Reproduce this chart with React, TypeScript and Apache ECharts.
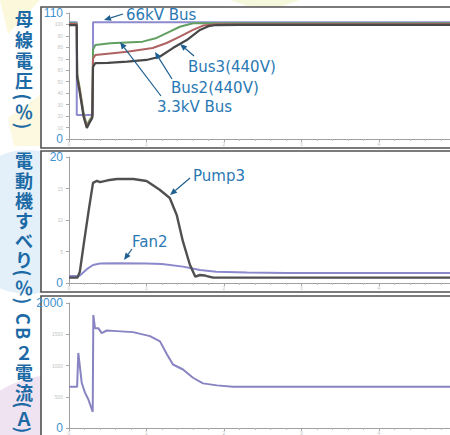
import React, { useEffect, useRef } from "react";
import * as echarts from "echarts";

// ---- Panel 1: bus voltage (%) vs time (s) ----
const bus66kV: [number, number][] = [
  [0, 102], [0.1, 102], [0.1, 21], [0.31, 21], [0.31, 102], [5, 102],
];
const bus33kV: [number, number][] = [
  [0, 101], [0.1, 101], [0.105, 57], [0.14, 44], [0.19, 22], [0.23, 12], [0.27, 17], [0.3, 20],
  [0.31, 78], [0.34, 82], [0.53, 83.5], [0.95, 85], [1.13, 88.2], [1.3, 93.7], [1.43, 98],
  [1.6, 101], [5, 101],
];
const bus2: [number, number][] = [
  [0, 100.5], [0.1, 100.5], [0.105, 55], [0.14, 42], [0.19, 20], [0.23, 11], [0.27, 15.5], [0.3, 19],
  [0.31, 70], [0.34, 73.3], [0.5, 74.5], [0.75, 76.2], [1.08, 79.4], [1.26, 83.8], [1.43, 89.3],
  [1.6, 95.2], [1.73, 99], [1.9, 100.2], [5, 100.4],
];
const bus3: [number, number][] = [
  [0, 99.5], [0.1, 99.5], [0.105, 54], [0.14, 40], [0.19, 19], [0.23, 9.6], [0.27, 14.8], [0.3, 18.3],
  [0.31, 62.9], [0.34, 66.3], [0.5, 66.5], [0.75, 67.5], [1.0, 69], [1.17, 71.8], [1.34, 79.4],
  [1.52, 86.4], [1.69, 95.2], [1.8, 98.5], [1.9, 99.5], [2.2, 99.7], [5, 99.7],
];

// ---- Panel 2: motor slip (%) ----
const pump3: [number, number][] = [
  [0, 0.85], [0.11, 0.85], [0.14, 1.8], [0.2, 7], [0.26, 12], [0.31, 15.9], [0.36, 16.2], [0.4, 16.0],
  [0.5, 16.3], [0.62, 16.5], [0.83, 16.5], [1.0, 16.2], [1.05, 15.8], [1.17, 14.8], [1.3, 13.5],
  [1.39, 10.8], [1.47, 6.6], [1.56, 2.9], [1.63, 1.0], [1.69, 1.27], [1.75, 1.2], [1.78, 1.1],
  [1.86, 0.85], [2.2, 0.85], [5, 0.85],
];
const fan2: [number, number][] = [
  [0, 1.1], [0.11, 1.1], [0.14, 1.2], [0.23, 2.2], [0.31, 2.86], [0.4, 3.1], [0.6, 3.15], [1.0, 3.1],
  [1.2, 3.0], [1.47, 2.6], [1.69, 2.06], [1.9, 1.8], [2.3, 1.65], [2.8, 1.6], [5, 1.6],
];

// ---- Panel 3: CB2 current (A) ----
const cb2: [number, number][] = [
  [0, 661], [0.105, 661], [0.12, 1201], [0.164, 725], [0.206, 566], [0.249, 460], [0.271, 381],
  [0.306, 259], [0.314, 1809], [0.335, 1598], [0.378, 1598], [0.422, 1519], [0.486, 1560],
  [0.615, 1550], [0.826, 1534], [1.045, 1470], [1.174, 1386], [1.265, 1175], [1.342, 1016],
  [1.471, 936], [1.6, 804], [1.729, 714], [1.91, 682], [2.116, 661], [5, 661],
];

const yRanges = [
  { max: 110, interval: 10 },
  { max: 20, interval: 5 },
  { max: 2000, interval: 500 },
];

const LABEL_BLUE = "#1b6aa5";
const NOTE_BLUE = "#2a78b3";
const TICK_BLUE = "#3f93d2";
const VFONT = 'bold 18px "Noto Sans CJK JP"';

function arrow(x1: number, y1: number, x2: number, y2: number) {
  const ang = Math.atan2(y2 - y1, x2 - x1);
  const L = 7, W = 3;
  const bx = x2 - L * Math.cos(ang), by = y2 - L * Math.sin(ang);
  const px = -Math.sin(ang) * W, py = Math.cos(ang) * W;
  return [
    { type: "line", z: 20, shape: { x1, y1, x2: bx, y2: by }, style: { stroke: "#1f5f8f", lineWidth: 1.2 } },
    {
      type: "polygon", z: 20,
      shape: { points: [[x2, y2], [bx + px, by + py], [bx - px, by - py]] },
      style: { fill: "#1f5f8f" },
    },
  ];
}

// vertical label: CJK upright; parentheses and latin letters rotated clockwise
function vchars(list: [string, number][]) {
  return list.map(([c, y]) => {
    const rotated = c === "(" || c === ")" || c === "C" || c === "B";
    return {
      type: "text", z: 20, x: 24, y,
      rotation: rotated ? -Math.PI / 2 : 0,
      style: { text: c, fill: LABEL_BLUE, font: VFONT, align: "center", verticalAlign: "middle" },
    };
  });
}

function note(text: string, x: number, y: number) {
  return {
    type: "text", z: 20, x, y,
    style: { text, fill: NOTE_BLUE, font: '15px "DejaVu Sans"', align: "left", verticalAlign: "middle" },
  };
}

export default function App() {
  const ref = useRef<HTMLDivElement>(null);
  useEffect(() => {
    const chart = echarts.init(ref.current!, null, { renderer: "svg" });
    const grids = [
      { left: 69, top: 13, height: 126, right: 3.5 },
      { left: 69, top: 157, height: 126, right: 3.5 },
      { left: 69, top: 303, height: 126, right: 3.5 },
    ];
    const xAxes = grids.map((_, i) => ({
      type: "value", gridIndex: i, min: 0, max: 5, interval: 1, z: 5,
      axisLine: { show: true, onZero: false, lineStyle: { color: "#a0a0a0", width: 1 } },
      axisTick: { show: true, length: 3, lineStyle: { color: "#a8a8a8" } },
      minorTick: { show: true, splitNumber: 5, length: 2, lineStyle: { color: "#b8b8b8" } },
      splitLine: { show: false },
      axisLabel: {
        show: true, fontSize: 5, color: "#c4c4c4", margin: 2,
        formatter: (v: number) => (v >= 5 ? "" : String(v)),
      },
    }));
    const yAxes = yRanges.map((r, i) => ({
      type: "value", gridIndex: i, min: 0, max: r.max, interval: r.interval, z: 5,
      axisLine: { show: true, lineStyle: { color: "#a0a0a0", width: 1 } },
      axisTick: { show: true, length: 3, lineStyle: { color: "#a8a8a8" } },
      splitLine: { show: false },
      axisLabel: {
        margin: 6,
        formatter: (v: number) => (v === 0 || v === r.max ? `{big|${v}}` : `{small|${v}}`),
        rich: {
          big: { fontSize: 12, color: TICK_BLUE, fontFamily: "Liberation Sans" },
          small: { fontSize: 5, color: "#c4c4c4" },
        },
      },
    }));
    const line = (data: [number, number][], idx: number, color: string, width = 2) => ({
      type: "line", xAxisIndex: idx, yAxisIndex: idx, data, showSymbol: false, symbol: "none",
      lineStyle: { color, width }, z: 6, clip: false,
    });

    const boxes = [
      { y: 7, h: 141 },
      { y: 151, h: 141 },
      { y: 296, h: 150 },
    ].map((b) => ({
      type: "rect", z: 1,
      shape: { x: 41, y: b.y, width: 430, height: b.h },
      style: { fill: "#ffffff", stroke: "#505050", lineWidth: 1.6 },
    }));

    const decorations = [
      { type: "circle", z: 0, shape: { cx: 28, cy: 222, r: 72 }, style: { fill: "#e3eff9" } },
      { type: "circle", z: 0, shape: { cx: 55, cy: 480, r: 105 }, style: { fill: "#efe3f1" } },
      { type: "polygon", z: 0, shape: { points: [[0, 0], [40, 0], [8, 34]] }, style: { fill: "#fbf8dc" } },
      { type: "polygon", z: 0, shape: { points: [[8, 118], [40, 95], [40, 146], [14, 146]] }, style: { fill: "#fcf9e0" } },
      { type: "polygon", z: 0, shape: { points: [[230, 0], [300, 0], [280, 7], [250, 7]] }, style: { fill: "#f6f8dc" } },
    ];

    chart.setOption({
      animation: false,
      backgroundColor: "#ffffff",
      grid: grids,
      xAxis: xAxes,
      yAxis: yAxes,
      series: [
        line(bus66kV, 0, "#8f8bd0", 2),
        line(bus33kV, 0, "#62a062", 2),
        line(bus2, 0, "#b06262", 2),
        line(bus3, 0, "#484848", 2.2),
        line(fan2, 1, "#8c88cc", 2),
        line(pump3, 1, "#505050", 2.4),
        line(cb2, 2, "#8884c2", 2),
      ],
      graphic: [
        ...decorations,
        ...boxes,
        ...vchars([["母", 18], ["線", 39], ["電", 60], ["圧", 80], ["(", 97], ["％", 111], [")", 126]]),
        ...vchars([["電", 160], ["動", 180], ["機", 200], ["す", 220], ["べ", 240], ["り", 259], ["(", 273], ["％", 287], [")", 301]]),
        ...vchars([["C", 319], ["B", 333], ["２", 352], ["電", 372], ["流", 392], ["(", 405], ["Ａ", 418], [")", 430]]),
        note("66kV Bus", 126, 15),
        ...arrow(123, 14, 104, 20),
        note("Bus3(440V)", 188, 67),
        ...arrow(194, 56, 180, 44),
        note("Bus2(440V)", 171, 88),
        ...arrow(172, 79, 155, 52),
        note("3.3kV Bus", 157, 107),
        ...arrow(161, 96, 120, 42),
        note("Pump3", 193, 176),
        ...arrow(190, 178, 170, 195),
        note("Fan2", 132, 242),
        ...arrow(132, 249, 124, 260),
      ],
    });
    return () => chart.dispose();
  }, []);
  return (
    <div style={{ position: "fixed", left: 0, top: 0, width: 450, height: 435, overflow: "hidden", background: "#fff" }}>
      <div ref={ref} style={{ width: 460, height: 435 }} />
    </div>
  );
}
